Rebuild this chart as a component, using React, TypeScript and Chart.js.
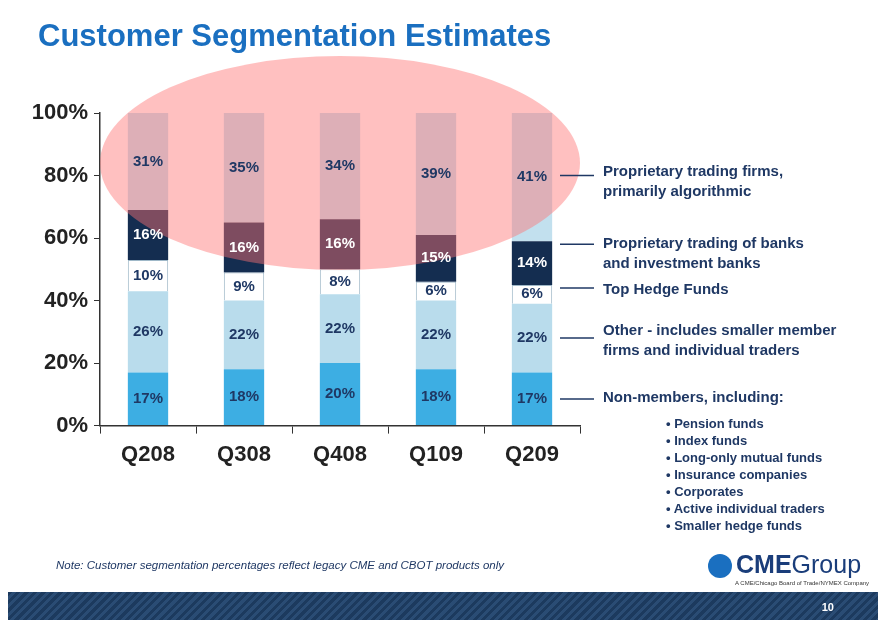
import React, { useEffect, useRef } from "react";
import { Chart, registerables } from "chart.js";
Chart.register(...registerables);

const categories = ["Q208", "Q308", "Q408", "Q109", "Q209"];
const nonMembers = [17, 18, 20, 18, 17];
const other = [26, 22, 22, 22, 22];
const topHedge = [10, 9, 8, 6, 6];
const propBanks = [16, 16, 16, 15, 14];
const propFirms = [31, 35, 34, 39, 41];
const yTicks = ["0%", "20%", "40%", "60%", "80%", "100%"];

const seriesDefs = [
  { label: "Non-members", data: nonMembers, bg: "#3daee3", text: "#1f3864" },
  { label: "Other", data: other, bg: "#b9dcec", text: "#1f3864" },
  { label: "Top Hedge Funds", data: topHedge, bg: "#ffffff", text: "#1f3864" },
  { label: "Prop banks", data: propBanks, bg: "#142d50", text: "#ffffff" },
  { label: "Prop firms", data: propFirms, bg: "#c2e0ee", text: "#1f3864" },
];

const overlay = {
  id: "overlay",
  afterDatasetsDraw(chart: any) {
    const ctx = chart.ctx;
    const x = chart.scales.x;
    const y = chart.scales.y;
    const cx = (x.getPixelForValue(0) + x.getPixelForValue(4)) / 2;
    const cy = y.getPixelForValue(84);
    ctx.save();
    ctx.beginPath();
    ctx.ellipse(cx, cy, 240, 107, 0, 0, Math.PI * 2);
    ctx.fillStyle = "rgba(255,115,115,0.45)";
    ctx.fill();
    ctx.restore();
    ctx.save();
    ctx.font = "bold 15px Arial, 'Liberation Sans'";
    ctx.textAlign = "center";
    ctx.textBaseline = "middle";
    chart.data.datasets.forEach((ds: any, di: number) => {
      const meta = chart.getDatasetMeta(di);
      meta.data.forEach((bar: any, i: number) => {
        const mid = (bar.y + bar.base) / 2;
        ctx.fillStyle = seriesDefs[di].text;
        ctx.fillText(ds.data[i] + "%", bar.x, mid);
      });
    });
    ctx.strokeStyle = "#1f3864";
    ctx.lineWidth = 1.5;
    const xs = x.getPixelForValue(4) + 28;
    const lines = [17 / 2, 17 + 11, 17 + 22 + 3 + 2, 59 - 1, 80];
    lines.forEach((v) => {
      const py = y.getPixelForValue(v);
      ctx.beginPath();
      ctx.moveTo(xs, py);
      ctx.lineTo(xs + 34, py);
      ctx.stroke();
    });
    ctx.restore();
  },
};

export default function App() {
  const ref = useRef<HTMLCanvasElement>(null);
  useEffect(() => {
    const chart = new Chart(ref.current!, {
      type: "bar",
      data: {
        labels: categories,
        datasets: seriesDefs.map((s) => ({
          label: s.label,
          data: s.data,
          backgroundColor: s.bg,
          borderColor: s.bg === "#ffffff" ? "#9fb8c8" : s.bg,
          borderWidth: s.bg === "#ffffff" ? 1 : 0,
          barPercentage: 0.42,
          categoryPercentage: 1,
        })),
      },
      options: {
        responsive: false,
        animation: false,
        layout: { padding: { left: 20, top: 113, right: 306, bottom: 150 } },
        plugins: { legend: { display: false }, tooltip: { enabled: false } },
        scales: {
          x: {
            stacked: true,
            grid: { drawOnChartArea: false, drawTicks: true, tickLength: 8, offset: true, color: "#333" } as any,
            border: { color: "#333", width: 1.5 },
            ticks: { color: "#222", font: { size: 22, weight: "bold", family: "Arial, 'Liberation Sans'" }, padding: 8 },
          },
          y: {
            stacked: true,
            min: 0,
            max: 100,
            grid: { drawOnChartArea: false, tickLength: 6, color: "#333" },
            border: { color: "#333", width: 1.5 },
            ticks: {
              stepSize: 20,
              color: "#222",
              padding: 6,
              font: { size: 22, weight: "bold", family: "Arial, 'Liberation Sans'" },
              callback: (v: any) => yTicks[Math.round(Number(v) / 20)],
            },
            afterFit: (s: any) => { s.width = 80; },
          } as any,
        },
      },
      plugins: [overlay],
    });
    return () => chart.destroy();
  }, []);

  const rt: React.CSSProperties = {
    position: "absolute",
    left: 603,
    color: "#1f3864",
    fontFamily: "Arial, 'Liberation Sans'",
    fontWeight: "bold",
    fontSize: 15,
    lineHeight: "20px",
    margin: 0,
  };
  const bullets = ["Pension funds", "Index funds", "Long-only mutual funds", "Insurance companies", "Corporates", "Active individual traders", "Smaller hedge funds"];
  return (
    <div style={{ position: "fixed", left: 0, top: 0, width: 886, height: 626, background: "#fff", overflow: "hidden" }}>
      <canvas ref={ref} width={886} height={626} style={{ position: "absolute", left: 0, top: 0 }} />
      <div style={{ position: "absolute", left: 38, top: 18, fontFamily: "Arial, 'Liberation Sans'", fontWeight: "bold", fontSize: 31, color: "#1a6fc0" }}>
        Customer Segmentation Estimates
      </div>
      <div style={{ ...rt, top: 161 }}>Proprietary trading firms,<br />primarily algorithmic</div>
      <div style={{ ...rt, top: 233 }}>Proprietary trading of banks<br />and investment banks</div>
      <div style={{ ...rt, top: 279 }}>Top Hedge Funds</div>
      <div style={{ ...rt, top: 320 }}>Other - includes smaller member<br />firms and individual traders</div>
      <div style={{ ...rt, top: 387 }}>Non-members, including:</div>
      <div style={{ ...rt, left: 666, top: 415, fontSize: 13, lineHeight: "17px" }}>
        {bullets.map((b) => (<div key={b}>• {b}</div>))}
      </div>
      <div style={{ position: "absolute", left: 56, top: 559, fontFamily: "Arial, 'Liberation Sans'", fontStyle: "italic", fontSize: 11.5, color: "#1f3864" }}>
        Note: Customer segmentation percentages reflect legacy CME and CBOT products only
      </div>
      <div style={{ position: "absolute", left: 708, top: 550, fontFamily: "Arial, 'Liberation Sans'", fontSize: 25, color: "#1a3d7a" }}>
        <span style={{ display: "inline-block", width: 24, height: 24, borderRadius: 12, background: "#1a6fc0", verticalAlign: "middle", marginRight: 4 }} />
        <b>CME</b>Group
      </div>
      <div style={{ position: "absolute", left: 735, top: 580, fontFamily: "Arial", fontSize: 6, color: "#333" }}>A CME/Chicago Board of Trade/NYMEX Company</div>
      <div style={{ position: "absolute", left: 8, top: 592, width: 870, height: 28, background: "repeating-linear-gradient(135deg, #1c3a5e 0 3px, #2a4c74 3px 6px)" }}>
        <span style={{ position: "absolute", right: 44, top: 9, color: "#fff", fontFamily: "Arial", fontSize: 11, fontWeight: "bold" }}>10</span>
      </div>
    </div>
  );
}
